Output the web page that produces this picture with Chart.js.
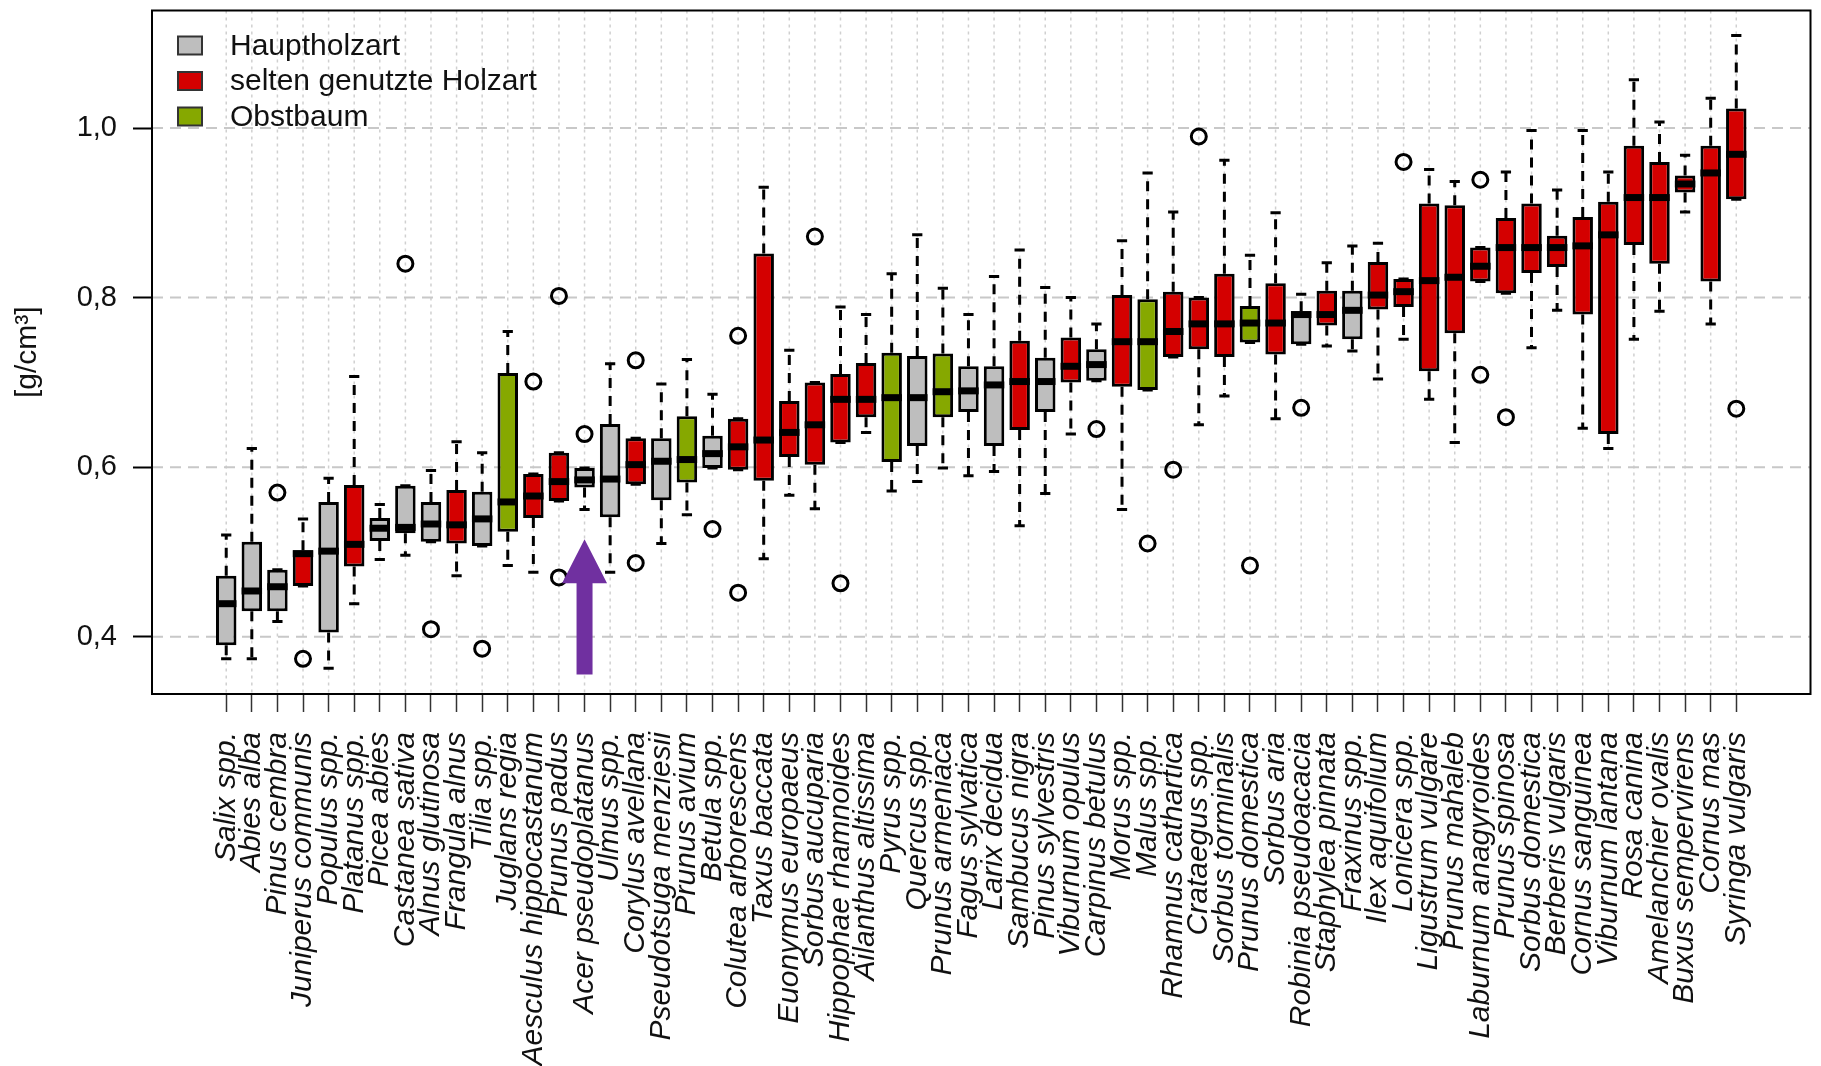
<!DOCTYPE html>
<html>
<head>
<meta charset="utf-8">
<script src="https://cdn.jsdelivr.net/npm/chart.js@4.4.1/dist/chart.umd.min.js"></script>
<style>
html,body{margin:0;padding:0;background:#fff;}
#wrap{width:1821px;height:1066px;position:relative;}
</style>
</head>
<body>
<div id="wrap"><canvas id="c"></canvas></div>
<script>
const categories = ["Salix spp.","Abies alba","Pinus cembra","Juniperus communis","Populus spp.","Platanus spp.","Picea abies","Castanea sativa","Alnus glutinosa","Frangula alnus","Tilia spp.","Juglans regia","Aesculus hippocastanum","Prunus padus","Acer pseudoplatanus","Ulmus spp.","Corylus avellana","Pseudotsuga menziesii","Prunus avium","Betula spp.","Colutea arborescens","Taxus baccata","Euonymus europaeus","Sorbus aucuparia","Hippophae rhamnoides","Ailanthus altissima","Pyrus spp.","Quercus spp.","Prunus armeniaca","Fagus sylvatica","Larix decidua","Sambucus nigra","Pinus sylvestris","Viburnum opulus","Carpinus betulus","Morus spp.","Malus spp.","Rhamnus cathartica","Crataegus spp.","Sorbus torminalis","Prunus domestica","Sorbus aria","Robinia pseudoacacia","Staphylea pinnata","Fraxinus spp.","Ilex aquifolium","Lonicera spp.","Ligustrum vulgare","Prunus mahaleb","Laburnum anagyroides","Prunus spinosa","Sorbus domestica","Berberis vulgaris","Cornus sanguinea","Viburnum lantana","Rosa canina","Amelanchier ovalis","Buxus sempervirens","Cornus mas","Syringa vulgaris"];
// H = Hauptholzart, S = selten genutzte Holzart, O = Obstbaum
const groups = ["H","H","H","S","H","S","H","H","H","S","H","O","S","S","H","H","S","H","O","H","S","S","S","S","S","S","O","H","O","H","H","S","H","S","H","S","O","S","S","S","O","S","H","S","H","S","S","S","S","S","S","S","S","S","S","S","S","S","S","S"];
const whiskerLow  = [0.374,0.374,0.418,0.460,0.363,0.439,0.491,0.496,0.512,0.472,0.507,0.484,0.476,0.560,0.550,0.476,0.580,0.510,0.544,0.599,0.597,0.492,0.567,0.551,0.629,0.641,0.572,0.583,0.599,0.590,0.595,0.531,0.569,0.639,0.702,0.550,0.691,0.730,0.650,0.684,0.747,0.657,0.745,0.743,0.737,0.704,0.751,0.680,0.629,0.819,0.805,0.741,0.785,0.646,0.622,0.751,0.784,0.901,0.769,0.916];
const q1          = [0.390,0.430,0.430,0.460,0.405,0.483,0.513,0.522,0.512,0.510,0.507,0.524,0.540,0.560,0.576,0.541,0.580,0.561,0.582,0.599,0.597,0.584,0.612,0.603,0.629,0.659,0.606,0.625,0.659,0.665,0.625,0.644,0.665,0.700,0.702,0.695,0.691,0.730,0.739,0.730,0.747,0.733,0.745,0.767,0.751,0.786,0.789,0.713,0.758,0.819,0.805,0.829,0.836,0.780,0.639,0.862,0.840,0.924,0.819,0.916];
const median      = [0.439,0.454,0.459,0.498,0.501,0.509,0.528,0.529,0.533,0.532,0.539,0.559,0.566,0.583,0.585,0.586,0.603,0.607,0.609,0.616,0.624,0.632,0.641,0.650,0.680,0.680,0.682,0.682,0.689,0.690,0.697,0.701,0.701,0.719,0.721,0.748,0.748,0.760,0.769,0.769,0.770,0.770,0.780,0.780,0.785,0.803,0.807,0.820,0.824,0.837,0.859,0.859,0.859,0.861,0.874,0.918,0.918,0.934,0.947,0.969];
const q3          = [0.472,0.512,0.479,0.502,0.559,0.579,0.540,0.578,0.559,0.573,0.571,0.711,0.592,0.617,0.599,0.651,0.634,0.634,0.660,0.637,0.657,0.852,0.678,0.700,0.710,0.723,0.735,0.731,0.734,0.719,0.719,0.749,0.729,0.753,0.739,0.803,0.798,0.807,0.800,0.828,0.790,0.817,0.784,0.808,0.808,0.842,0.822,0.911,0.909,0.859,0.894,0.911,0.873,0.895,0.913,0.979,0.960,0.944,0.979,1.023];
const whiskerHigh = [0.520,0.622,0.479,0.539,0.587,0.707,0.556,0.578,0.596,0.630,0.617,0.760,0.592,0.617,0.599,0.722,0.634,0.698,0.727,0.686,0.657,0.930,0.738,0.700,0.789,0.780,0.828,0.874,0.811,0.780,0.825,0.856,0.812,0.800,0.769,0.867,0.947,0.901,0.800,0.962,0.850,0.900,0.804,0.841,0.861,0.864,0.822,0.951,0.937,0.859,0.948,0.997,0.927,0.997,0.948,1.057,1.007,0.968,1.035,1.109];
const outliers = [[],[],[0.570],[0.374],[],[],[],[0.840],[0.409],[],[0.386],[],[0.701],[0.802,0.470],[0.639],[],[0.726,0.487],[],[],[0.527],[0.755,0.452],[],[],[0.872],[0.463],[],[],[],[],[],[],[],[],[],[0.645],[],[0.510],[0.597],[0.990],[],[0.484],[],[0.670],[],[],[],[0.960],[],[],[0.939,0.709],[0.659],[],[],[],[],[],[],[],[],[0.669]];
const yTicks = [0.4, 0.6, 0.8, 1.0];
const yTitle = "[g/cm³]";
const legendKeys = ["H","S","O"];
const legendLabels = ["Hauptholzart","selten genutzte Holzart","Obstbaum"];
const groupColors = {H:"#bebebe", S:"#d40000", O:"#86a800"};
const arrowCategory = "Acer pseudoplatanus";
const arrowTip = 0.515, arrowHeadBase = 0.463, arrowTail = 0.3555;

const FONT = "'Liberation Sans', Arial, Helvetica, sans-serif";

const boxData = categories.map((c,i)=>({x:i+1, y:[q1[i], q3[i]]}));
const outlierData = outliers.flatMap((arr,i)=>arr.map(v=>({x:i+1, y:v})));

const boxPlugin = {
  id: 'boxplot',
  beforeDatasetsDraw(chart){
    const {ctx, chartArea:a, scales:{x,y}} = chart;
    ctx.save();
    ctx.beginPath(); ctx.rect(a.left,a.top,a.right-a.left,a.bottom-a.top); ctx.clip();
    // vertical dotted grid
    ctx.strokeStyle = '#d0d0d0'; ctx.lineWidth = 1.5; ctx.setLineDash([3,4]);
    categories.forEach((c,i)=>{
      const px = x.getPixelForValue(i+1);
      ctx.beginPath(); ctx.moveTo(px,a.top); ctx.lineTo(px,a.bottom); ctx.stroke();
    });
    // horizontal dashed grid
    ctx.strokeStyle = '#c8c8c8'; ctx.lineWidth = 2; ctx.setLineDash([11,7]);
    yTicks.forEach(v=>{
      const py = y.getPixelForValue(v);
      ctx.beginPath(); ctx.moveTo(a.left,py); ctx.lineTo(a.right,py); ctx.stroke();
    });
    // whiskers
    ctx.strokeStyle = '#000'; ctx.lineWidth = 3; ctx.setLineDash([10,8]);
    categories.forEach((c,i)=>{
      const px = x.getPixelForValue(i+1);
      if (whiskerHigh[i] > q3[i]) {
        ctx.beginPath(); ctx.moveTo(px,y.getPixelForValue(q3[i])); ctx.lineTo(px,y.getPixelForValue(whiskerHigh[i])); ctx.stroke();
      }
      if (whiskerLow[i] < q1[i]) {
        ctx.beginPath(); ctx.moveTo(px,y.getPixelForValue(q1[i])); ctx.lineTo(px,y.getPixelForValue(whiskerLow[i])); ctx.stroke();
      }
    });
    // staples
    ctx.setLineDash([]); ctx.lineWidth = 3;
    categories.forEach((c,i)=>{
      const xl = x.getPixelForValue(i+1-0.2), xr = x.getPixelForValue(i+1+0.2);
      [whiskerHigh[i], whiskerLow[i]].forEach(v=>{
        const py = y.getPixelForValue(v);
        ctx.beginPath(); ctx.moveTo(xl,py); ctx.lineTo(xr,py); ctx.stroke();
      });
    });
    ctx.restore();
  },
  afterDatasetsDraw(chart){
    const {ctx, scales:{y}} = chart;
    const meta = chart.getDatasetMeta(0);
    ctx.save();
    ctx.strokeStyle = '#000'; ctx.lineWidth = 7; ctx.lineCap = 'butt';
    meta.data.forEach((bar,i)=>{
      const py = y.getPixelForValue(median[i]);
      ctx.beginPath(); ctx.moveTo(bar.x - bar.width/2, py); ctx.lineTo(bar.x + bar.width/2, py); ctx.stroke();
    });
    ctx.restore();
  },
  afterDraw(chart){
    const {ctx, chartArea:a, scales:{x,y}} = chart;
    ctx.save();
    // arrow
    const ai = categories.indexOf(arrowCategory) + 1;
    const ax = x.getPixelForValue(ai);
    const tipY = y.getPixelForValue(arrowTip), baseY = y.getPixelForValue(arrowHeadBase), tailY = y.getPixelForValue(arrowTail);
    ctx.fillStyle = '#7030a0';
    ctx.beginPath();
    ctx.moveTo(ax, tipY);
    ctx.lineTo(ax + 22.5, baseY);
    ctx.lineTo(ax + 8, baseY);
    ctx.lineTo(ax + 8, tailY);
    ctx.lineTo(ax - 8, tailY);
    ctx.lineTo(ax - 8, baseY);
    ctx.lineTo(ax - 22.5, baseY);
    ctx.closePath();
    ctx.fill();
    // frame
    ctx.strokeStyle = '#000'; ctx.lineWidth = 2;
    ctx.strokeRect(a.left, a.top, a.right - a.left, a.bottom - a.top);
    // legend
    ctx.font = `30px ${FONT}`;
    ctx.textBaseline = 'middle'; ctx.textAlign = 'left';
    legendKeys.forEach((k,j)=>{
      const cy = a.top + 35 + j*35.5;
      ctx.fillStyle = groupColors[k];
      ctx.fillRect(a.left + 26, cy - 9, 24, 18);
      ctx.strokeStyle = '#333'; ctx.lineWidth = 2;
      ctx.strokeRect(a.left + 26, cy - 9, 24, 18);
      ctx.fillStyle = '#111';
      ctx.fillText(legendLabels[j], a.left + 78, cy + 1);
    });
    ctx.restore();
  }
};

new Chart(document.getElementById('c'), {
  type: 'bar',
  data: {
    datasets: [
      {
        type: 'bar',
        data: boxData,
        backgroundColor: groups.map(g=>groupColors[g]),
        borderColor: '#000',
        borderWidth: 3,
        borderSkipped: false,
        barPercentage: 1,
        categoryPercentage: 0.8,
        order: 2
      },
      {
        type: 'scatter',
        data: outlierData,
        pointStyle: 'circle',
        pointRadius: 7.5,
        pointBorderWidth: 3,
        pointBorderColor: '#000',
        pointBackgroundColor: 'rgba(255,255,255,0)',
        order: 1
      }
    ]
  },
  options: {
    responsive: true,
    maintainAspectRatio: false,
    animation: false,
    devicePixelRatio: 1,
    layout: { padding: { top: 6, right: 3, left: 0, bottom: 0 } },
    plugins: { legend: { display: false }, tooltip: { enabled: false } },
    scales: {
      x: {
        type: 'linear',
        min: -1.9, max: 62.9,
        bounds: 'data',
        offset: false,
        grid: { offset: false, drawOnChartArea: false, drawTicks: true, tickLength: 18, tickWidth: 1.5, tickColor: '#333' },
        border: { display: false },
        ticks: {
          autoSkip: false, minRotation: 90, maxRotation: 90, padding: 20,
          color: '#111',
          font: { family: FONT, size: 30, style: 'italic' },
          callback: (v)=> categories[Math.round(v)-1] || ''
        },
        afterBuildTicks: s => { s.ticks = categories.map((c,i)=>({value:i+1})); },
        afterFit: s => { s.height = 372; s.paddingLeft = 0; s.paddingRight = 0; }
      },
      y: {
        type: 'linear',
        min: 0.3325, max: 1.1386,
        bounds: 'data',
        grid: { drawOnChartArea: false, drawTicks: true, tickLength: 19, tickWidth: 2, tickColor: '#000' },
        border: { display: false },
        ticks: {
          padding: 16, color: '#111',
          font: { family: FONT, size: 29 },
          callback: v => v.toFixed(1).replace('.', ',')
        },
        afterBuildTicks: s => { s.ticks = yTicks.map(v=>({value:v})); },
        title: { display: true, text: yTitle, color: '#111', font: { family: FONT, size: 30 }, padding: { top: 10, bottom: 0 } },
        afterFit: s => { s.width = 152; s.paddingTop = 0; s.paddingBottom = 0; }
      }
    }
  },
  plugins: [boxPlugin]
});
</script>
</body>
</html>
